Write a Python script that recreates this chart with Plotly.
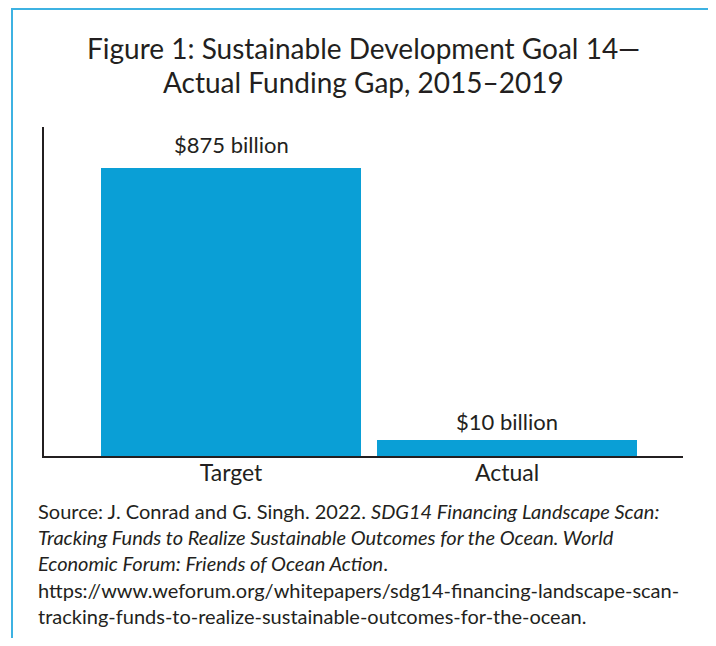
import plotly.graph_objects as go

categories = ["Target", "Actual"]
bar_heights = [875, 48]          # drawn bar heights
value_labels = ["$875 billion", "$10 billion"]

title_lines = [
    "Figure 1: Sustainable Development Goal 14\u2014",
    "Actual Funding Gap, 2015\u20132019",
]
source_lines = [
    "Source: J. Conrad and G. Singh. 2022. <i>SDG14 Financing Landscape Scan:</i>",
    "<i>Tracking Funds to Realize Sustainable Outcomes for the Ocean. World</i>",
    "<i>Economic Forum: Friends of Ocean Action</i>.",
    "https://www.weforum.org/whitepapers/sdg14-financing-landscape-scan-",
    "tracking-funds-to-realize-sustainable-outcomes-for-the-ocean.",
]

FONT = "Lato"
TXT = "#231f20"
BAR = "#0a9fd6"

OFF = 8  # page body margin
W, H = 708, 630
L, R, T, B = 44 - OFF, 33, 127 - OFF, 0
B = H - (456 - OFF)
pw, ph = W - L - R, H - T - B


def px_x(px):
    return (px - OFF - L) / pw


def px_y(py):
    return (H - B - (py - OFF)) / ph


fig = go.Figure()
fig.add_trace(go.Bar(
    x=[0, 1], y=bar_heights, width=0.942,
    marker=dict(color=BAR, line=dict(width=0)),
    hoverinfo="skip",
))

annotations = []
label_shift = [24, 19]
for i, (v, lab) in enumerate(zip(bar_heights, value_labels)):
    annotations.append(dict(
        x=i, y=v, xref="x", yref="y", text=lab, showarrow=False,
        yanchor="middle", yshift=label_shift[i],
        font=dict(family=FONT, size=22, color=TXT),
    ))

title_y = [48, 82]
for line, yy in zip(title_lines, title_y):
    annotations.append(dict(
        x=px_x(363), y=px_y(yy), xref="paper", yref="paper", text=line,
        showarrow=False, xanchor="center", yanchor="middle",
        font=dict(family=FONT, size=28, color=TXT),
    ))

src_y = [511, 537, 563, 590, 616]
for line, yy in zip(source_lines, src_y):
    annotations.append(dict(
        x=px_x(36), y=px_y(yy), xref="paper", yref="paper", text=line,
        showarrow=False, xanchor="left", yanchor="middle",
        font=dict(family=FONT, size=20, color=TXT),
    ))

shapes = [dict(
    type="path", xref="paper", yref="paper",
    path=f"M {px_x(12)},{px_y(660)} L {px_x(12)},{px_y(9)} L {px_x(714)},{px_y(9)} L {px_x(714)},{px_y(660)}",
    line=dict(color="#3db2e2", width=2),
)]

fig.update_layout(
    width=W, height=H,
    margin=dict(l=L, r=R, t=T, b=B, pad=0),
    paper_bgcolor="white", plot_bgcolor="white",
    showlegend=False,
    annotations=annotations,
    shapes=shapes,
    xaxis=dict(
        range=[-0.678, 1.638], tickmode="array", tickvals=[0, 1], ticktext=categories,
        showline=True, linecolor=TXT, linewidth=1.5, showgrid=False, zeroline=False,
        ticks="", tickfont=dict(family=FONT, size=23, color=TXT), fixedrange=True,
        ticklabelstandoff=-4,
    ),
    yaxis=dict(
        range=[0, 1000], showline=True, linecolor=TXT, linewidth=1.5,
        showgrid=False, zeroline=False, showticklabels=False, ticks="", fixedrange=True,
    ),
    bargap=0,
)

fig.write_html("out.html")
